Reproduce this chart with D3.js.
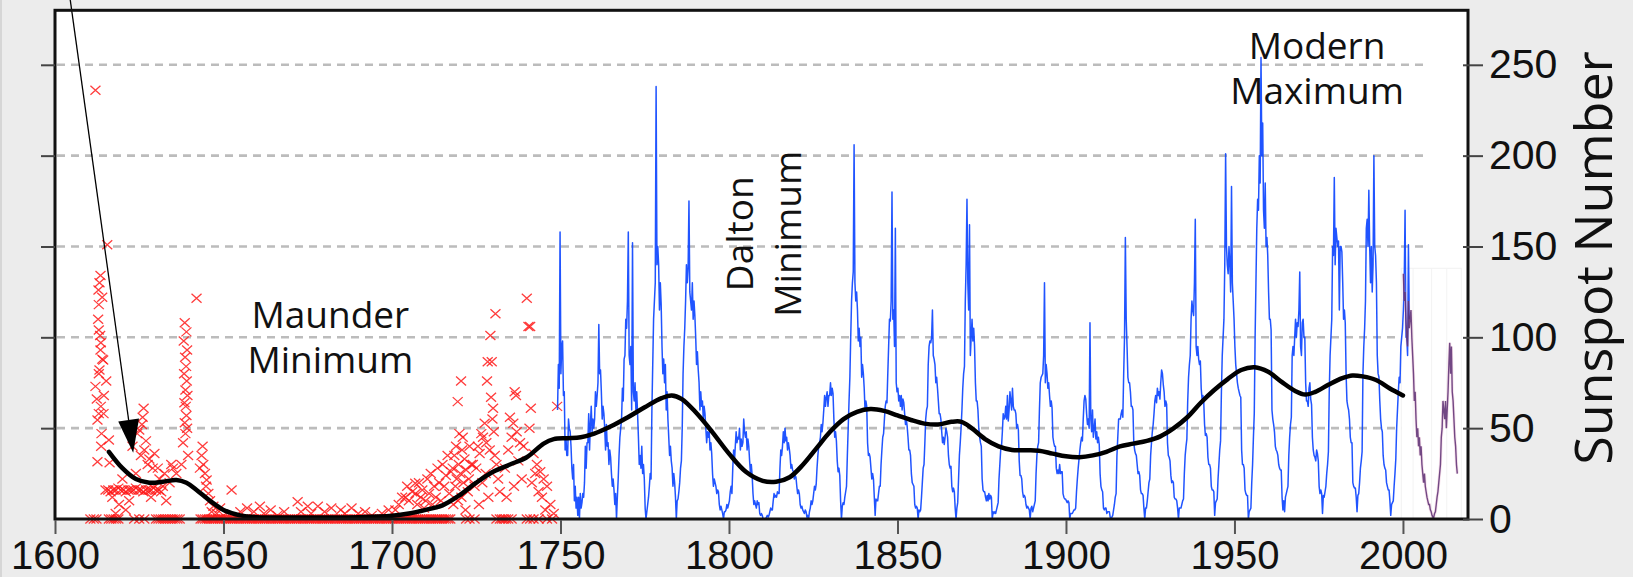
<!DOCTYPE html>
<html><head><meta charset="utf-8">
<script src="https://cdn.jsdelivr.net/npm/d3@7"></script>
<style>html,body{margin:0;padding:0;background:#ececec;overflow:hidden}svg{display:block}</style>
</head><body>
<svg id="chart" width="1633" height="577"></svg>
<script>
// ---------------- DATA ----------------
const xTicks = [1600, 1650, 1700, 1750, 1800, 1850, 1900, 1950, 2000];
const yTicks = [0, 50, 100, 150, 200, 250];
const gridValues = [50, 100, 150, 200, 250];

// Telescopic observations 1610-1750 (red crosses)
const obsYears = [
  1610.5,1611.5,1612.3,1612,1613.5,1613.2,1614,1613,1612.8,1613.4,1613.6,1613.5,1613.2,1613,1612,1615.2,1613.6,1613,1612.6,1615.5,1616,1612.6,1616.2,1613.8,1614.5,1612.4,1614,1613,1612.9,1614.4,1613.7,1614.3,
  1615,1615.8,1616.5,1617.3,1618,1618.8,1619.5,1620.3,1621,1621.8,1622.5,1623.3,1624,1624.8,1625.5,1626.2,1627,1627.8,1628.5,1629.2,1630,1630.8,1631.5,
  1626.3,1626,1625,1624.4,1627,1626.5,1625.5,1628,1627.5,1629,1624,1630.5,1631,1632.5,1632,1628.5,1622,1621,1619,1618,1617,1633,1634,1635,1636,1634.5,1623,1620,1629.5,1625.8,
  1638.5,1639,1638.2,1639.2,1638.6,1638.9,1638.3,1639.1,1638.7,1639.3,1638.4,1638.8,1639,1638.5,1639.2,1638.7,1642,1638,1637.5,1639.5,
  1643.5,1644,1644.5,1643,1645,1645.5,1646,1647,1644.8,1646.5,1648,1649,1650,1643.8,
  1652.4,1655,1657,1659,1660.8,1662,1664,1666,1668,1672,1673,1675,1676,1678,1680,1682,1684.8,1686,1688,1690,1692,1694,1697,1699,
  1701,1702,1703,1704,1704.5,1705,1706,1706.9,1707,1707.5,1708,1708.5,1709,1709.5,1710,1710.5,1711,1711.5,1712,1712.5,1713,1713.5,1714,1714.5,1715,1715.5,1716,1716.5,1717,1717.5,
  1720.5,1719.5,1720,1721,1719,1720.8,1718.5,1721.5,1719.8,1718,1722,1720.3,1719.2,1721.2,1718.8,1722.5,1720.6,1719.6,1718.2,1721.8,1723,1723.5,1722.8,
  1729.2,1730.7,1728.4,1729.6,1728.2,1729.4,1730,1727.5,1726.5,1727,1725.5,1726,1728,1729,1730.5,1731,1725,1727.8,1726.8,1724.5,1731.5,1732,1728.6,1725.8,1724,1730.2,1729.8,
  1740,1740.5,1741,1736.4,1736.8,1741.2,1735,1736,1737,1735.5,1738,1734.5,1739,1742,1737.5,1743,1744,1745,1733.5,1741.5,1742.5,1743.5,1744.5,1746,1747,1749,1740.8,1738.5,1736.2,1734,1745.5,1748
];
const obsValues = [
  0,0,0,236,134,130,122,118,110,101,97,93,82,80,73,76,62,58,54.5,151,43.5,31.5,31,47,68,66,88,104,126,58,40,87.5,
  16,16,15,16,16,17,16,16,15,16,16,16,17,16,16,15,16,16,16,17,16,16,15,
  61,56,49,47,43,38,35,33,30,28,25,28,22,25,18,12,10,5,8,3,12,10,20,28,25,30,40,22,36,52,
  108,103,98,93,89,84,80,76,71,68,64,62,57,53,50,47,121.5,42,30,35,
  35,30,25,28,21.5,14,10,7,18,4,3,6,2,40,
  16,4,6,4,7,3,5,2,4,9.5,4,7,3,7,4,6,5,3,6,3,4,2,3,5,
  5,8,12,12,18,10,15,19.7,14,8,20,12,16,6,10,22,14,25,8,18,12,28,20,10,30,18,24,35,14,26,
  76,64.6,47,45,40,38,35,33,30,28,27,25,22,20,18,15,12,10,8,5,40,30,22,
  101,113,86.6,86.6,76,67,61,52.7,47,45,40,36,42,38,35,30,28,25,20,18,22,15,12,8,30,48,55,
  121.5,106,106,70,68,61,56,52.7,48,45,42,38,40,36,32,30,26,22,28,20,25,15,12,18,8,62,50,22,18,12,5,3
];
// Observations recorded as zero spots
const obsZeroYears = [
  1616,1616.7,1617.4,1618.1,1618.8,1623.5,1625,1626.5,1630,1630.7,1631.4,1632.1,1632.8,1633.5,1634.2,1634.9,1635.6,1636.3,1637,
  1643.2,1643.8,1644.5,1645.1,1645.7,1646.4,1647,1647.6,1648.3,1648.9,1649.5,1650.2,1650.8,1651.4,1652.1,1652.7,1653.3,1654,1654.6,1655.2,
  1655.9,1656.5,1657.1,1657.8,1658.4,1659,1659.7,1660.3,1660.9,1661.6,1662.2,1662.8,1663.5,1664.1,1664.7,1665.4,1666,1666.6,1667.3,1667.9,
  1668.5,1669.2,1669.8,1670.4,1671.1,1671.7,1672.3,1673,1673.6,1674.2,1674.9,1675.5,1676.1,1676.8,1677.4,1678,1678.7,1679.3,1679.9,1680.6,
  1681.2,1681.8,1682.5,1683.1,1683.7,1684.4,1685,1685.6,1686.3,1686.9,1687.5,1688.2,1688.8,1689.4,1690.1,1690.7,1691.3,1692,1692.6,1693.2,
  1693.9,1694.5,1695.1,1695.8,1696.4,1697,1697.7,1698.3,1698.9,1699.6,1700.2,1700.8,1701.5,1702.1,1702.7,1703.4,1704,1704.6,1705.3,1705.9,
  1706.5,1707.2,1707.8,1708.4,1709.1,1709.7,1710.3,1711,1711.6,1712.2,1712.9,1713.5,1714.1,1714.8,1715.4,1716,1716.7,1717.3,
  1722,1723,1724.5,1731,1732,1732.6,1733.2,1733.8,1734.5,1735.5,1740,1741,1742,1743.5,1746,1747.5
];

// Sunspot number 1749-2001, four samples per year (blue)
const blueStartYear = 1749;
const blueSamplesPerYear = 4;
const blueValues = [
  60,85,72,158, 80,95,98,68, 70,38,45,35, 35,55,50,48, 40,28,22,30, 10,18,6,12, 2,12,0,14, 6,9,14,12, 20,40,28,42, 42,58,38,52,
  62,48,55,50, 55,70,62,68, 75,107,80,82, 70,55,62,58, 50,38,52,40, 42,30,38,34, 25,18,22,16, 8,14,0,12, 22,35,45,50, 55,72,65,88,
  90,110,105,120, 158,90,85,95, 60,152,70,65, 75,60,70,58, 45,30,35,28, 40,25,30,22, 6,0,4,8, 12,18,25,22, 60,85,110,120, 130,238,140,150,
  140,115,130,118, 95,80,88,75, 85,60,70,55, 45,35,40,32, 28,18,25,20, 12,0,10,11, 15,20,28,32, 50,80,95,105, 120,140,130,138, 175,125,120,115,
  130,110,120,112, 100,85,92,82, 75,60,70,62, 65,55,62,58, 50,42,48,45, 48,38,42,36, 25,18,22,20, 18,14,16,15, 8,5,7,5, 3,0,4,4,
  5,8,6,8, 10,15,18,14, 28,38,32,40, 48,42,45,44, 50,38,44,40, 42,55,48,45, 48,38,44,40, 32,25,30,24, 14,8,10,8, 6,10,8,9,
  3,2,3,2, 0,0,0,0, 1,2,1,2, 4,6,5,5, 10,14,12,13, 12,15,14,14, 28,38,35,40, 48,42,50,43, 45,38,42,39, 35,28,30,27,
  26,22,24,23, 18,14,16,14, 8,6,7,5, 4,3,5,4, 1,2,0,4, 6,10,8,10, 14,18,16,19, 28,35,40,42, 45,52,48,53, 60,68,62,67,
  70,62,68,68, 75,68,72,69, 55,45,48,43, 32,26,28,24, 10,0,7,9, 8,12,15,18, 35,50,65,78, 100,120,130,136, 206,130,120,125, 115,98,105,95,
  100,78,85,80, 72,60,65,62, 42,35,36,34, 28,22,25,22, 12,2,11,10, 10,14,18,18, 30,38,45,47, 55,62,65,64, 80,95,110,109, 120,180,110,115,
  95,160,75,70, 72,65,68,62, 68,60,66,64, 58,52,55,51, 45,38,38,35, 25,20,19,18, 8,6,7,6, 0,5,4,5, 12,20,28,30, 42,55,60,62,
  85,95,98,97, 100,115,90,88, 85,75,78,72, 65,58,58,55, 48,42,45,41, 45,50,48,45, 35,30,28,29, 18,15,17,15, 6,0,6,9, 22,35,42,50,
  60,72,80,84, 120,140,176,130, 115,162,90,100, 110,98,105,95, 75,65,65,60, 50,45,42,40, 22,16,15,15, 12,10,13,10, 14,11,13,12, 0,4,3,4,
  3,5,7,9, 22,30,38,40, 48,58,55,56, 62,55,68,54, 60,70,65,60, 72,62,60,60, 58,50,52,49, 32,24,24,22, 15,12,13,12, 8,6,7,6,
  5,0,6,7, 4,6,8,10, 25,35,40,42, 60,75,78,79, 80,90,130,75, 85,80,72,75, 68,62,65,61, 45,42,40,40, 28,25,27,25, 30,25,26,26,
  14,12,11,11, 10,9,10,9, 0,3,3,3, 4,5,5,6, 15,22,28,33, 38,42,45,43, 55,65,68,66, 58,52,55,50, 108,55,48,60, 45,50,55,44,
  48,42,45,41, 25,18,16,15, 6,5,6,6, 3,4,4,4, 1,0,1,2, 5,8,12,14, 35,45,55,55, 55,58,60,56, 80,100,155,110, 95,78,75,75,
  70,62,62,60, 42,38,36,35, 30,25,26,24, 16,14,14,13, 6,0,6,6, 10,15,20,22, 35,42,48,52, 58,65,68,64, 72,68,70,66, 75,82,80,74,
  70,62,65,63, 42,35,34,32, 24,20,21,20, 12,11,11,10, 6,0,6,6, 6,8,10,11, 25,35,40,44, 65,78,85,90, 110,120,115,112, 130,165,95,90,
  95,88,85,87, 72,66,68,65, 52,46,47,45, 34,30,30,28, 18,16,16,15, 2,9,10,11, 22,30,38,43, 70,90,100,110, 140,201,150,140, 135,150,140,125,
  183,130,120,110, 95,85,80,75, 72,70,68,67, 38,30,30,28, 16,14,13,13, 0,4,5,6, 20,30,45,58, 100,130,160,176, 170,200,185,254, 200,218,170,160,
  185,150,155,145, 125,110,110,104, 60,55,52,48, 40,38,37,35, 30,28,27,27, 12,5,10,4, 12,14,16,18, 35,45,52,56, 90,95,90,100, 110,100,108,106,
  115,136,95,90, 108,110,100,100, 75,65,65,62, 72,75,66,63, 45,38,35,34, 32,38,36,32, 18,14,16,14, 3,13,12,15, 18,25,30,37, 70,90,100,110,
  150,145,188,140, 160,155,150,153, 115,150,150,147, 130,110,115,108, 80,65,62,60, 55,45,42,42, 20,18,17,17, 12,4,13,14, 20,28,32,37, 80,95,105,120,
  160,165,150,181, 150,130,150,125, 140,200,150,145, 130,90,80,78, 65,55,50,48, 35,30,28,27, 20,18,16,16, 10,2,8,9, 10,18,25,33, 50,60,70,78,
  75,95,100,105, 115,130,170,100, 100,90,151,110
];

// Recent record 2000-2016 (purple), four samples per year
const recentStartYear = 2000;
const recentValues = [
  135,120,125,110, 100,95,120,105, 110,115,100,90, 80,65,70,55, 45,50,40,45, 35,40,30,25, 20,25,18,15, 12,10,8,8,
  5,4,2,1, 1,3,4,8, 12,15,20,25, 30,45,50,65, 60,55,65,50, 60,70,85,97, 80,95,70,65, 55,45,40,30, 25
];

// Smoothed long-term trend (black)
const trendYears = [1616,1620,1624,1628,1632,1636,1639,1642,1646,1650,1655,1660,1670,1680,1690,1700,1705,1710,1715,1720,1725,1730,1735,1740,1745,1748,1752,1756,1760,1765,1770,1775,1780,1783,1786,1790,1795,1800,1805,1810,1814,1818,1822,1826,1830,1834,1838,1842,1846,1850,1854,1858,1862,1866,1869,1872,1876,1880,1884,1888,1892,1896,1900,1904,1908,1912,1916,1920,1924,1928,1932,1936,1940,1944,1948,1952,1956,1960,1964,1968,1971,1974,1978,1982,1985,1988,1992,1996,2000];
const trendValues = [37,28,22,20,20.5,21.5,20,16,10,5,2,1,0.8,0.8,1,1.8,3,5,7.5,13,20,26,30,34,41.5,44,44.5,45,47,51,56,61.5,66.5,68,66,59,48,36,26,21,20.5,23,30,39,48,55,59,60.5,59.5,57,54.5,52.5,52,53.5,53.5,50,44,40,38,37.8,37.6,36,34.5,34,35,37,40,41.5,43,45.5,50,56,64,71,77,82,83.5,81,75.5,70.5,68.5,70,74,77.5,79,78.5,76.5,72,68];

// Annotations
const annotations = [
  {lines: ["Maunder", "Minimum"], year: 1681.7, value: 105, rotate: false},
  {lines: ["Dalton", "Minimum"], year: 1807, value: 157, rotate: true},
  {lines: ["Modern", "Maximum"], year: 1974.5, value: 253, rotate: false}
];
const arrowFrom = {year: 1604.5, value: 286};
const arrowTo = {year: 1623.2, value: 36.5};
const yTitle = "Sunspot Number";

// ---------------- DRAW ----------------
const svg = d3.select("#chart");
const W = 1633, H = 577;
const x = d3.scaleLinear().domain([1600, 2019.3]).range([55, 1468]);
const y = d3.scaleLinear().domain([0, 280]).range([519, 10.3]);

svg.append("rect").attr("width", W).attr("height", H).attr("fill", "#ececec");
svg.append("rect").attr("x", 0).attr("y", 0).attr("width", 2).attr("height", H).attr("fill", "#d6d6d6");

// plot background
svg.append("rect").attr("x", x(1600)).attr("y", y(280)).attr("width", x(2019.3) - x(1600)).attr("height", y(0) - y(280)).attr("fill", "#fff");

// grid
svg.append("g").selectAll("line").data(gridValues).join("line")
  .attr("x1", x(1600) + 2).attr("x2", x(2006.2))
  .attr("y1", d => y(d)).attr("y2", d => y(d))
  .attr("stroke", "#bcbcbc").attr("stroke-width", 2.6).attr("stroke-dasharray", "8,6");

// annotations text
const fontAnn = "'Open Sans', 'DejaVu Sans', sans-serif";
annotations.forEach(a => {
  const g = svg.append("g");
  if (!a.rotate) {
    a.lines.forEach((t, i) => {
      g.append("text").attr("x", x(a.year)).attr("y", y(a.value) + i * 45)
        .attr("text-anchor", "middle").attr("font-family", fontAnn).attr("font-size", 37).attr("fill", "#111").text(t);
    });
  } else {
    a.lines.forEach((t, i) => {
      g.append("text").attr("transform", `translate(${x(a.year) + i * 48},${y(a.value)}) rotate(-90)`)
        .attr("text-anchor", "middle").attr("font-family", fontAnn).attr("font-size", 37).attr("fill", "#111").text(t);
    });
  }
});

// recent-data inset box
const boxG = svg.append("g");
boxG.append("rect").attr("x", x(1999.5)).attr("y", y(138)).attr("width", x(2017.3) - x(1999.5)).attr("height", y(0) - y(138))
  .attr("fill", "#fff").attr("stroke", "#f1f1f1");
[2003, 2008.5, 2013].forEach(v => boxG.append("line").attr("x1", x(v)).attr("x2", x(v)).attr("y1", y(138)).attr("y2", y(0)).attr("stroke", "#f3f3f3"));

// red crosses
const cross = "M-5,-4.5L5,4.5M-5,4.5L5,-4.5";
const obs = obsYears.map((yr, i) => [yr, obsValues[i]]).concat(obsZeroYears.map(yr => [yr, 0]));
svg.append("g").selectAll("path").data(obs).join("path")
  .attr("d", cross).attr("transform", d => `translate(${x(d[0])},${y(d[1])})`)
  .attr("stroke", "#ff1a1a").attr("stroke-width", 1.3).attr("stroke-opacity", 0.85).attr("fill", "none");

// blue series
const blue = blueValues.map((v, i) => [blueStartYear + (i + 0.5) / blueSamplesPerYear, v]);
svg.append("path").datum(blue)
  .attr("d", d3.line().x(d => x(d[0])).y(d => y(d[1])))
  .attr("fill", "none").attr("stroke", "#0d45ff").attr("stroke-width", 1.5).attr("stroke-opacity", 0.92).attr("stroke-linejoin", "round");

// recent purple series
const recent = recentValues.map((v, i) => [recentStartYear + (i + 0.5) / 4, v]);
svg.append("path").datum(recent)
  .attr("d", d3.line().x(d => x(d[0])).y(d => y(d[1])))
  .attr("fill", "none").attr("stroke", "#e8a6c6").attr("stroke-width", 3).attr("stroke-opacity", 0.35);
svg.append("path").datum(recent)
  .attr("d", d3.line().x(d => x(d[0])).y(d => y(d[1])))
  .attr("fill", "none").attr("stroke", "#5a2d72").attr("stroke-width", 1.4).attr("stroke-opacity", 0.85);

// black trend
const trend = trendYears.map((t, i) => [t, trendValues[i]]);
svg.append("path").datum(trend)
  .attr("d", d3.line().x(d => x(d[0])).y(d => y(d[1])).curve(d3.curveCatmullRom.alpha(0.5)))
  .attr("fill", "none").attr("stroke", "#000").attr("stroke-width", 4.5).attr("stroke-linecap", "round");

// arrow
const ax1 = x(arrowFrom.year), ay1 = y(arrowFrom.value), ax2 = x(arrowTo.year), ay2 = y(arrowTo.value);
const len = Math.hypot(ax2 - ax1, ay2 - ay1), ux = (ax2 - ax1) / len, uy = (ay2 - ay1) / len;
const headL = 33, headW = 10.5;
const bx = ax2 - ux * headL, by = ay2 - uy * headL;
svg.append("line").attr("x1", ax1).attr("y1", ay1).attr("x2", bx).attr("y2", by).attr("stroke", "#000").attr("stroke-width", 1.3);
svg.append("path").attr("d", `M${ax2},${ay2}L${bx - uy * headW},${by + ux * headW}L${bx + uy * headW},${by - ux * headW}Z`).attr("fill", "#000");

// frame
svg.append("rect").attr("x", x(1600)).attr("y", y(280)).attr("width", x(2019.3) - x(1600)).attr("height", y(0) - y(280))
  .attr("fill", "none").attr("stroke", "#111").attr("stroke-width", 3);

// axes
const fontTick = "'Liberation Sans', Arial, sans-serif";
const xAxis = svg.append("g").attr("transform", `translate(0,${y(0) + 1})`)
  .call(d3.axisBottom(x).tickValues(xTicks).tickFormat(d3.format("d")).tickSizeInner(14).tickSizeOuter(0).tickPadding(7));
xAxis.select(".domain").remove();
xAxis.selectAll("line").attr("stroke", "#555").attr("stroke-width", 2);
xAxis.selectAll("text").attr("font-family", fontTick).attr("font-size", 40).attr("fill", "#111");

const rAxis = svg.append("g").attr("transform", `translate(${x(2019.3) - 5},0)`)
  .call(d3.axisRight(y).tickValues(yTicks).tickSizeInner(20).tickSizeOuter(0).tickPadding(6));
rAxis.select(".domain").remove();
rAxis.selectAll("line").attr("stroke", "#444").attr("stroke-width", 2);
rAxis.selectAll("text").attr("font-family", fontTick).attr("font-size", 41).attr("fill", "#111");

const lAxis = svg.append("g").attr("transform", `translate(${x(1600)},0)`)
  .call(d3.axisLeft(y).tickValues(yTicks.slice(1)).tickSizeInner(14).tickSizeOuter(0).tickFormat(""));
lAxis.select(".domain").remove();
lAxis.selectAll("line").attr("stroke", "#444").attr("stroke-width", 2);

svg.append("text").attr("transform", `translate(1612,258) rotate(-90)`).attr("text-anchor", "middle")
  .attr("font-family", fontAnn).attr("font-size", 52).attr("fill", "#111").text(yTitle);
</script>
</body></html>
